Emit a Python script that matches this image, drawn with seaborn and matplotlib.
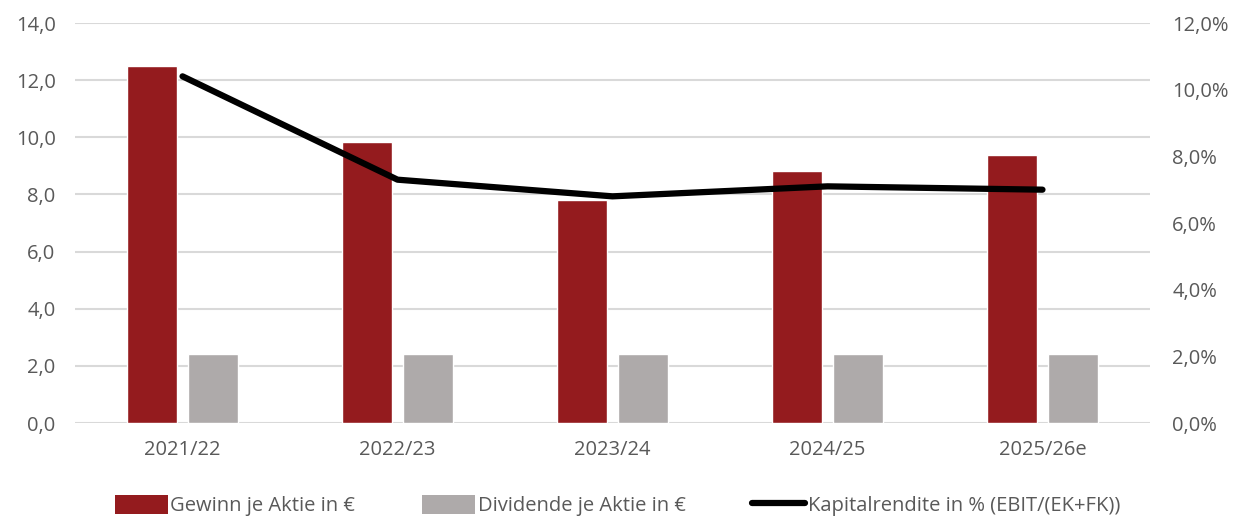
import numpy as np
import pandas as pd
import matplotlib
matplotlib.use("Agg")
import matplotlib.pyplot as plt
import seaborn as sns
from matplotlib.patches import Patch
from matplotlib.lines import Line2D

categories = ["2021/22", "2022/23", "2023/24", "2024/25", "2025/26e"]
gewinn = [12.5, 9.85, 7.8, 8.82, 9.37]
dividende = [2.43, 2.43, 2.43, 2.43, 2.43]
rendite = [10.4, 7.3, 6.8, 7.1, 7.0]
series_names = ["Gewinn je Aktie in €", "Dividende je Aktie in €", "Kapitalrendite in % (EBIT/(EK+FK))"]
left_ticks = [0, 2, 4, 6, 8, 10, 12, 14]
right_ticks = [0, 2, 4, 6, 8, 10, 12]

red = "#941B1E"
grey = "#AEAAAA"
txt = "#595959"

sns.set_theme(style="white")
plt.rcParams["font.family"] = ["Open Sans", "DejaVu Sans"]

df = pd.DataFrame({
    "Jahr": categories * 2,
    "Wert": gewinn + dividende,
    "Serie": [series_names[0]] * len(categories) + [series_names[1]] * len(categories),
})

fig = plt.figure(figsize=(12.36, 5.17), dpi=100)
ax = fig.add_axes([0.0607, 0.1818, 0.8697, 0.7737])

sns.barplot(data=df, x="Jahr", y="Wert", hue="Serie", order=categories,
            hue_order=series_names[:2], palette=[red, grey], width=0.567, gap=0.18,
            ax=ax, legend=False, saturation=1)

ax.set_ylim(0, 14)
ax.set_yticks(left_ticks)
ax.set_yticklabels([f"{v:.1f}".replace(".", ",") for v in left_ticks])
ax.set_xlim(-0.5, len(categories) - 0.5)
ax.yaxis.grid(True, color="#D9D9D9", linewidth=1.5)
ax.set_axisbelow(True)
for s in ax.spines.values():
    s.set_visible(False)
ax.set_xlabel("")
ax.set_ylabel("")
ax.tick_params(axis="both", length=0, colors=txt, labelsize=14.5)
ax.tick_params(axis="x", pad=12)
ax.tick_params(axis="y", pad=14)

ax2 = ax.twinx()
sns.lineplot(x=np.arange(len(categories)), y=rendite, ax=ax2, color="black",
             linewidth=4.5, solid_capstyle="round")
ax2.set_ylim(0, 12)
ax2.set_yticks(right_ticks)
ax2.set_yticklabels([f"{v:.1f}%".replace(".", ",") for v in right_ticks])
for s in ax2.spines.values():
    s.set_visible(False)
ax2.tick_params(axis="y", length=0, colors=txt, labelsize=14.5, pad=16)
ax2.set_xlim(-0.5, len(categories) - 0.5)

handles = [Patch(facecolor=red, edgecolor="none"),
           Patch(facecolor=grey, edgecolor="none"),
           Line2D([0], [0], color="black", linewidth=4.5, solid_capstyle="round")]
leg = fig.legend(handles, series_names, loc="center", bbox_to_anchor=(0.4995, 0.022),
                 ncol=3, frameon=False, fontsize=14.5, handlelength=2.65,
                 handletextpad=0.12, columnspacing=3.3, handleheight=1.1)
for t in leg.get_texts():
    t.set_color(txt)

fig.savefig("out.png", dpi=100)
